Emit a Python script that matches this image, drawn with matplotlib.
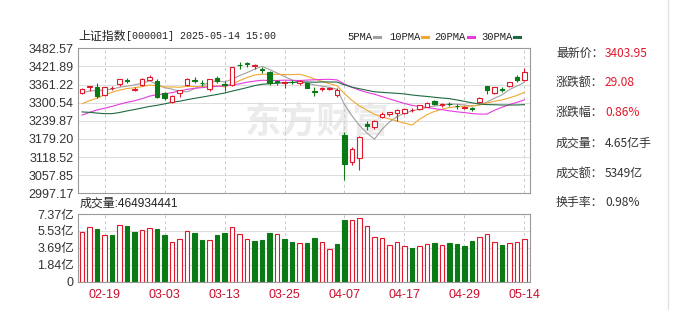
import matplotlib
matplotlib.use('Agg')
import matplotlib.pyplot as plt
from matplotlib.lines import Line2D
import numpy as np

plt.rcParams['font.family'] = ['Liberation Sans', 'Noto Sans CJK SC']

# trading days shown, 2025-02-14 .. 2025-05-14
dates = ['02-14', '02-17', '02-18', '02-19', '02-20', '02-21', '02-24', '02-25', '02-26', '02-27',
         '02-28', '03-03', '03-04', '03-05', '03-06', '03-07', '03-10', '03-11', '03-12', '03-13',
         '03-14', '03-17', '03-18', '03-19', '03-20', '03-21', '03-24', '03-25', '03-26', '03-27',
         '03-28', '03-31', '04-01', '04-02', '04-03', '04-07', '04-08', '04-09', '04-10', '04-11',
         '04-14', '04-15', '04-16', '04-17', '04-18', '04-21', '04-22', '04-23', '04-24', '04-25',
         '04-28', '04-29', '04-30', '05-06', '05-07', '05-08', '05-09', '05-12', '05-13', '05-14']
tick_idx = [3, 11, 19, 27, 35, 43, 51, 59]

opens = [3332, 3353, 3354, 3326, 3348, 3362, 3375, 3344, 3360, 3378,
         3374, 3332, 3304, 3332, 3360, 3375, 3368, 3345, 3383, 3362,
         3360, 3428, 3432, 3424, 3413, 3404, 3372, 3366, 3370, 3368,
         3365, 3340, 3345, 3346, 3326, 3194, 3101, 3115, 3228, 3220,
         3254, 3262, 3266, 3265, 3275, 3278, 3287, 3307, 3293, 3297,
         3291, 3283, 3282, 3302, 3356, 3333, 3346, 3356, 3388, 3378]
highs = [3350, 3357, 3368, 3353, 3356, 3381, 3383, 3352, 3384, 3393,
         3380, 3336, 3326, 3344, 3384, 3385, 3375, 3381, 3391, 3372,
         3421, 3436, 3436, 3430, 3419, 3407, 3376, 3372, 3377, 3376,
         3367, 3352, 3352, 3354, 3348, 3204, 3151, 3190, 3240, 3244,
         3270, 3270, 3278, 3283, 3282, 3292, 3302, 3310, 3298, 3303,
         3296, 3290, 3287, 3318, 3358, 3353, 3352, 3371, 3392, 3418]
lows = [3330, 3340, 3315, 3322, 3343, 3355, 3365, 3340, 3355, 3375,
        3316, 3311, 3298, 3320, 3355, 3365, 3355, 3340, 3366, 3340,
        3356, 3412, 3420, 3412, 3401, 3360, 3360, 3348, 3362, 3359,
        3349, 3322, 3340, 3342, 3321, 3041, 3092, 3075, 3210, 3214,
        3250, 3255, 3240, 3263, 3271, 3275, 3285, 3292, 3286, 3290,
        3280, 3280, 3272, 3298, 3328, 3330, 3335, 3352, 3370, 3374]
closes = [3346.72, 3355.83, 3324.49, 3351.54, 3350.78, 3379.11, 3373.03, 3346.04, 3380.21, 3388.06,
          3320.90, 3316.93, 3324.21, 3341.96, 3381.10, 3372.55, 3366.16, 3379.83, 3371.92, 3358.73,
          3419.56, 3426.43, 3429.76, 3426.43, 3408.95, 3364.83, 3370.03, 3369.98, 3368.70, 3373.75,
          3351.31, 3335.75, 3348.44, 3350.13, 3342.01, 3096.58, 3145.55, 3186.81, 3223.64, 3238.23,
          3262.81, 3267.66, 3276.00, 3280.34, 3276.73, 3291.43, 3299.76, 3296.36, 3297.29, 3295.06,
          3288.41, 3286.65, 3279.03, 3316.11, 3342.67, 3352.00, 3342.00, 3369.24, 3374.87, 3403.95]
prev_close = 3332.48

ma5 = [3333.16, 3339.90, 3341.18, 3342.21, 3345.87, 3352.35, 3355.79, 3360.10, 3365.83, 3373.29,
       3361.65, 3350.43, 3346.06, 3338.41, 3337.02, 3347.35, 3357.20, 3368.32, 3374.31, 3369.84,
       3379.24, 3391.29, 3401.28, 3412.18, 3422.23, 3411.28, 3400.00, 3388.04, 3376.50, 3369.46,
       3366.75, 3359.90, 3355.59, 3351.88, 3345.53, 3294.58, 3256.54, 3224.22, 3198.92, 3178.16,
       3211.41, 3235.83, 3253.67, 3265.01, 3272.71, 3278.43, 3284.85, 3288.92, 3292.31, 3295.98,
       3295.38, 3292.75, 3289.29, 3293.05, 3302.57, 3315.29, 3326.36, 3344.40, 3356.16, 3368.41]
ma10 = [3297.29, 3307.61, 3315.00, 3327.20, 3335.21, 3342.76, 3347.84, 3350.64, 3354.02, 3359.58,
        3356.99, 3353.11, 3353.08, 3352.12, 3355.16, 3354.50, 3353.81, 3357.19, 3356.36, 3353.43,
        3363.30, 3374.25, 3384.80, 3393.25, 3396.03, 3395.26, 3395.65, 3394.66, 3394.34, 3395.84,
        3389.02, 3379.95, 3371.82, 3364.19, 3357.49, 3330.67, 3308.22, 3289.90, 3275.40, 3261.85,
        3253.00, 3246.19, 3238.94, 3231.96, 3225.44, 3244.92, 3260.34, 3271.30, 3278.66, 3284.34,
        3286.90, 3288.80, 3289.11, 3292.68, 3299.28, 3305.33, 3309.56, 3316.85, 3324.60, 3335.49]
ma20 = [3258.94, 3268.31, 3276.49, 3282.02, 3288.21, 3295.36, 3301.92, 3307.00, 3313.88, 3322.61,
        3327.14, 3330.36, 3334.04, 3339.66, 3345.18, 3348.63, 3350.83, 3353.92, 3355.19, 3356.51,
        3360.15, 3363.68, 3368.94, 3372.69, 3375.59, 3374.88, 3374.73, 3375.93, 3375.35, 3374.64,
        3376.16, 3377.10, 3378.31, 3378.72, 3376.76, 3362.96, 3351.93, 3342.28, 3334.87, 3328.84,
        3321.01, 3313.07, 3305.38, 3298.08, 3291.46, 3287.79, 3284.28, 3280.60, 3277.03, 3273.09,
        3269.95, 3267.49, 3264.02, 3262.32, 3262.36, 3275.13, 3284.95, 3294.07, 3301.63, 3309.92]
ma30 = [3269.61, 3268.20, 3265.68, 3263.82, 3263.79, 3267.67, 3273.06, 3277.70, 3282.71, 3287.98,
        3291.63, 3296.57, 3302.02, 3305.39, 3310.52, 3315.07, 3319.22, 3323.73, 3328.04, 3332.88,
        3339.19, 3344.99, 3350.96, 3357.52, 3362.13, 3364.17, 3365.77, 3367.50, 3368.24, 3369.62,
        3369.77, 3369.10, 3369.90, 3369.85, 3369.56, 3360.14, 3352.56, 3347.25, 3342.03, 3337.04,
        3335.10, 3333.46, 3331.85, 3329.80, 3326.32, 3323.62, 3321.40, 3318.62, 3316.13, 3314.01,
        3309.64, 3304.98, 3299.96, 3296.28, 3294.07, 3293.64, 3292.71, 3292.68, 3292.89, 3293.89]

# volume in 亿 shares
volume = [5.41, 5.92, 5.74, 5.08, 5.08, 6.13, 6.06, 5.45, 5.63, 5.84,
          5.74, 5.08, 4.32, 4.68, 5.52, 5.30, 4.57, 4.54, 5.08, 5.30,
          5.95, 5.19, 4.68, 4.43, 4.57, 5.30, 5.19, 4.68, 4.32, 4.17,
          4.21, 4.76, 4.28, 3.59, 4.10, 6.72, 6.72, 6.90, 6.03, 4.86,
          4.72, 3.99, 4.28, 3.88, 3.67, 3.88, 4.10, 4.21, 3.99, 4.21,
          4.10, 3.88, 4.43, 4.83, 5.15, 4.32, 3.99, 4.17, 4.32, 4.65]

price_ticks = [2997.17, 3057.85, 3118.52, 3179.20, 3239.87, 3300.54, 3361.22, 3421.89, 3482.57]
vol_ticks = [0, 1.84, 3.69, 5.53, 7.37]

info_labels = ['最新价：', '涨跌额：', '涨跌幅：', '成交量：', '成交额：', '换手率：']
info_values = ['3403.95', '29.08', '0.86%', '4.65亿手', '5349亿', '0.98%']
info_red = [True, True, True, False, False, False]

RED = '#e0182a'
GREEN = '#0b7a16'
MA_COLORS = ['#a0a0a0', '#f0a830', '#e83ae0', '#1f6a40']
GRID = '#dcdcdc'
W, H = 684, 310

fig = plt.figure(figsize=(W / 100, H / 100), dpi=100)
fig.patch.set_facecolor('white')

def px_axes(l, t, r, b):
    return fig.add_axes([l / W, 1 - b / H, (r - l) / W, (b - t) / H])

ax = px_axes(78, 48.3, 530, 193.3)
axv = px_axes(78, 214, 530, 281.7)

o = np.array(opens, float)
h = np.array(highs, float)
lo = np.array(lows, float)
c = np.array(closes, float)
x = np.arange(len(c))
up = c >= o
col = np.where(up, RED, GREEN)

# watermark
ax.text(0.53, 0.49, '东方财富', transform=ax.transAxes, fontsize=26, color='#ebebeb',
        fontweight='bold', family=['Noto Sans CJK SC'], ha='center', va='center', zorder=0)

for m, mc in zip([ma5, ma10, ma20, ma30], MA_COLORS):
    ax.plot(x, m, color=mc, lw=0.8, zorder=2)

ax.vlines(x, lo, h, colors=col, lw=0.8, zorder=3)
body = np.maximum(np.abs(c - o), 0.8)
ax.bar(x, body, 0.62, np.minimum(o, c), color=np.where(up, 'white', GREEN),
       edgecolor=col, linewidth=0.8, zorder=4)

ax.set_xlim(-0.55, 59.75)
ax.set_ylim(price_ticks[0], price_ticks[-1])
ax.set_yticks(price_ticks)
ax.set_yticklabels(['%.2f' % v for v in price_ticks])
ax.set_xticks(tick_idx)
ax.set_xticklabels([])

# volume
pc = np.concatenate([[prev_close], c[:-1]])
vup = c >= pc
vcol = np.where(vup, RED, GREEN)
axv.bar(x, volume, 0.62, color=np.where(vup, 'white', GREEN), edgecolor=vcol,
        linewidth=0.8, zorder=3)
axv.set_xlim(-0.55, 59.75)
axv.set_ylim(0, vol_ticks[-1])
axv.set_yticks(vol_ticks)
axv.set_yticklabels(['0' if v == 0 else '%.2f亿' % v for v in vol_ticks])
axv.set_xticks(tick_idx)
axv.set_xticklabels([dates[i] for i in tick_idx], color='#c8102e')

for a in (ax, axv):
    a.set_facecolor('white')
    a.grid(axis='y', color=GRID, lw=0.7, ls='-', zorder=0)
    a.grid(axis='x', color='#c8c8c8', lw=0.7, ls=(0, (3, 3)), zorder=0)
    a.tick_params(length=0, labelsize=9, colors='#333333', pad=3)
    for s in a.spines.values():
        s.set_color('#9a9a9a')
        s.set_linewidth(0.8)
axv.tick_params(axis='x', colors='#c8102e', pad=5)

# header
fig.text(78 / W, 1 - 36 / H, '上证指数', fontsize=8.6, family=['Noto Sans CJK SC'],
         color='#222222', va='center')
fig.text(126 / W, 1 - 36 / H, '[000001] 2025-05-14 15:00', fontsize=7.2,
         family=['Liberation Mono'], color='#222222', va='center')

legend_x = [347, 389, 434, 481]
for lx, name in zip(legend_x, ['5PMA', '10PMA', '20PMA', '30PMA']):
    fig.text(lx / W, 1 - 36.5 / H, name, fontsize=7.6, family=['Liberation Mono'],
             color='#222222', va='center')
sw_x = [374, 422, 468, 514]
for sx, mc in zip(sw_x, MA_COLORS):
    fig.add_artist(Line2D([sx / W, (sx + 6) / W], [1 - 37 / H, 1 - 37 / H], color=mc, lw=2.2))

fig.text(80 / W, 1 - 203.5 / H, '成交量:464934441', fontsize=8.6, color='#222222', va='center')

# right info panel
row_y = [53.5, 82.5, 112.5, 143, 174, 202.5]
for yy, lab, val, red in zip(row_y, info_labels, info_values, info_red):
    fig.text(556 / W, 1 - yy / H, lab, fontsize=8.6, family=['Noto Sans CJK SC'],
             color='#333333', va='center')
    fig.text(605 / W, 1 - yy / H, val, fontsize=8.6, family=['Noto Sans CJK SC'],
             color=RED if red else '#333333', va='center')

fig.add_artist(Line2D([668 / W, 668 / W], [0, 1], color='#e2e2e2', lw=1))

fig.savefig('out.png', dpi=100, facecolor='white')
